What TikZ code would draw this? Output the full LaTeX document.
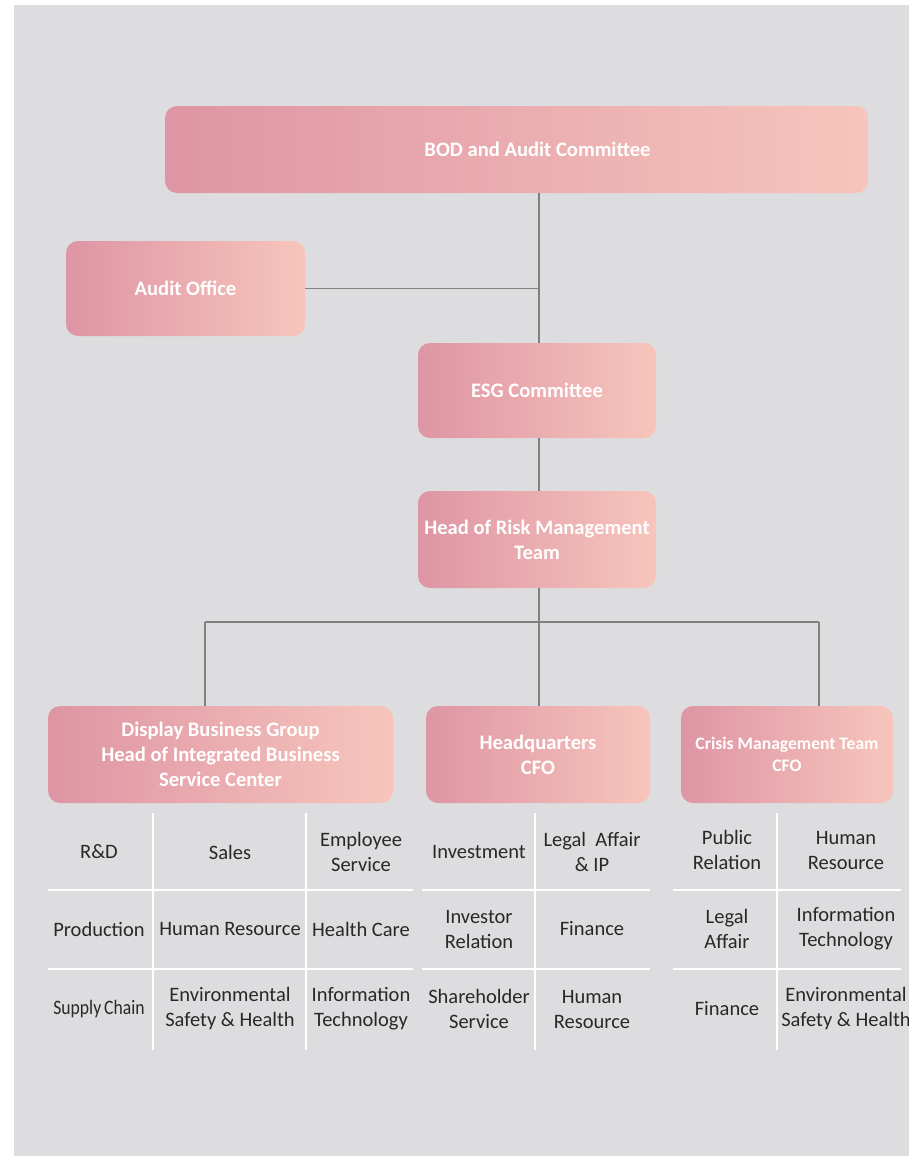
\documentclass[tikz,border=0pt]{standalone}
\usepackage{fontspec}
\setmainfont{Carlito}
\usetikzlibrary{positioning}
\definecolor{pageGray}{RGB}{221,221,223}
\definecolor{roseL}{RGB}{222,149,164}
\definecolor{roseR}{RGB}{247,197,188}
\definecolor{lineGray}{RGB}{128,128,128}
\definecolor{cellText}{RGB}{40,40,40}

\begin{document}
\begin{tikzpicture}[
    x=1pt, y=-1pt,
    unit/.style={rounded corners=12pt, left color=roseL, right color=roseR, draw=none, text=white,
      font=\fontsize{20.6}{25}\selectfont\bfseries, align=center, inner sep=0pt},
    link/.style={draw=lineGray, line width=1.3pt},
    grid/.style={draw=white, line width=2pt},
    cell/.style={text=cellText, font=\fontsize{20.5}{25}\selectfont, align=center, inner sep=0pt},
  ]
    \useasboundingbox (0,0) rectangle (909,1156);
    \fill[pageGray] (14,5) rectangle (909,1156);

    % management chain
    \node[unit, minimum width=703pt, minimum height=87pt] (bod) at (516.5,149.5) {\hspace*{42pt}BOD and Audit Committee};
    \node[unit, minimum width=239pt, minimum height=95pt] (audit) at (185.5,288.5) {Audit Office};
    \node[unit, minimum width=238pt, minimum height=95pt] (esg) at (537,390.5) {ESG Committee};
    \node[unit, minimum width=238pt, minimum height=97pt] (risk) at (537,539.5) {Head of Risk Management\\Team};

    % groups
    \node[unit, minimum width=345pt, minimum height=97pt] (dbg) at (220.5,754.5) {Display Business Group\\Head of Integrated Business\\Service Center};
    \node[unit, minimum width=224pt, minimum height=97pt] (hq) at (538,754.5) {Headquarters\\CFO};
    \node[unit, minimum width=212pt, minimum height=97pt, font=\fontsize{17.6}{22}\selectfont\bfseries] (crisis) at (787,754.5) {Crisis Management Team\\CFO};

    \coordinate (trunk) at (539,622);
    \coordinate (busL) at (205,622);
    \coordinate (busR) at (819,622);

    \draw[link] (bod.south -| trunk) -- (esg.north -| trunk);
    \draw[link] (audit.east) -- (audit.east -| trunk);
    \draw[link] (esg.south -| trunk) -- (risk.north -| trunk);
    \draw[link] (risk.south -| trunk) -- (hq.north -| trunk);
    \draw[link] (busL) -- (busR);
    \draw[link] (busL) -- (busL |- dbg.north);
    \draw[link] (busR) -- (busR |- crisis.north);

    % function tables
    \draw[grid] (48,890) -- (413,890);
    \draw[grid] (48,969) -- (413,969);
    \draw[grid] (153,813) -- (153,1050);
    \draw[grid] (306,813) -- (306,1050);
    \draw[grid] (422,890) -- (650,890);
    \draw[grid] (422,969) -- (650,969);
    \draw[grid] (535,813) -- (535,1050);
    \draw[grid] (673,890) -- (901,890);
    \draw[grid] (673,969) -- (901,969);
    \draw[grid] (777,813) -- (777,1050);

    \node[cell] (rd) at (99,852) {R\&D};
    \node[cell] (sales) at (230,852) {Sales};
    \node[cell] (empsvc) at (361,852) {Employee\\Service};
    \node[cell] (prod) at (99,929) {Production};
    \node[cell] (dbghr) at (230,929) {Human Resource};
    \node[cell] (care) at (361,929) {Health Care};
    \node[cell] (supply) at (99,1009) {\scalebox{0.86}[1]{Supply\,Chain}};
    \node[cell] (dbgesh) at (230,1009) {Environmental\\Safety \& Health};
    \node[cell] (dbgit) at (361,1009) {Information\\Technology};

    \node[cell] (invest) at (479,852) {Investment};
    \node[cell] (legalip) at (592,852) {Legal\ \ Affair\\\& IP};
    \node[cell] (ir) at (479,929) {Investor\\Relation};
    \node[cell] (hqfin) at (592,929) {Finance};
    \node[cell] (sharesvc) at (479,1009) {Shareholder\\Service};
    \node[cell] (hqhr) at (592,1009) {Human\\Resource};

    \node[cell] (pr) at (727,850) {Public\\Relation};
    \node[cell] (cmhr) at (846,850) {Human\\Resource};
    \node[cell] (legal) at (727,929) {Legal\\Affair};
    \node[cell] (cmit) at (846,929) {Information\\Technology};
    \node[cell] (cmfin) at (727,1009) {Finance};
    \node[cell] (cmesh) at (846,1009) {Environmental\\Safety \& Health};
  \end{tikzpicture}
\end{document}
